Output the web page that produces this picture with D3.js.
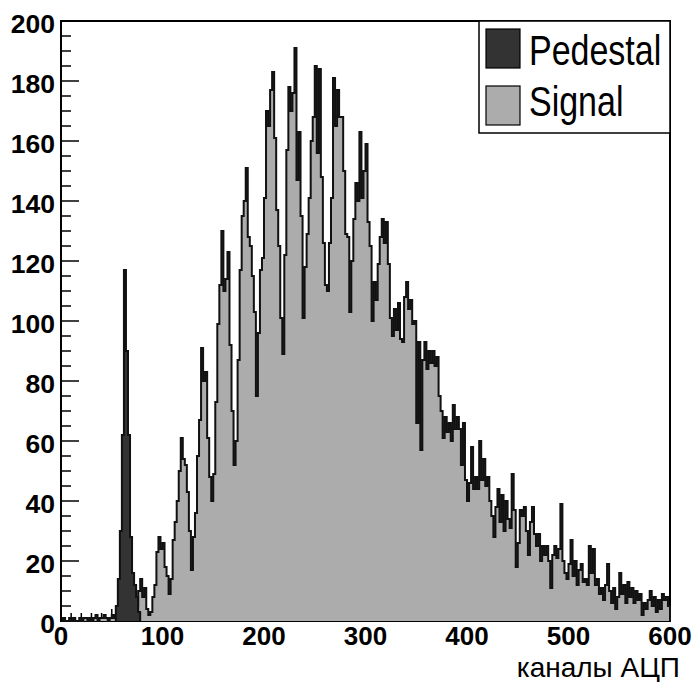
<!DOCTYPE html>
<html>
<head>
<meta charset="utf-8">
<script src="https://cdn.jsdelivr.net/npm/d3@7"></script>
<style>
  html, body { margin: 0; padding: 0; background: #fff; }
  svg { display: block; }
  text { font-family: "Liberation Sans", Arial, Helvetica, sans-serif; }
</style>
</head>
<body>
<svg id="chart" width="697" height="682"></svg>
<script>
// ---- data ----
const binWidth = 2;
const signalStart = 0;
const signalCounts = [
  0,1,0,0,1,0,1,0,0,1, 0,1,1,0,1,0,1,2,0,1, 1,2,1,0,1,2,1,2,3,5,
  6,4,7,5,6,8,6,5,10,14, 8,11,4,2,3,8,12,23,28,24,
  26,18,15,9,14,27,33,40,50,61, 54,52,43,30,17,28,36,55,67,91,
  80,83,61,48,40,49,73,99,112,130, 110,114,123,92,70,52,60,87,117,135,
  140,151,128,125,115,103,75,96,117,121, 141,170,165,177,183,161,137,125,101,89,
  122,157,178,170,176,191,147,163,135,101, 118,129,141,160,168,185,156,184,148,126,
  112,110,126,141,181,165,177,168,168,150, 129,128,103,120,134,146,140,163,141,150,
  159,133,125,100,113,107,119,128,134,126, 133,119,101,95,104,97,106,94,93,108,
  113,104,107,99,100,66,93,57,87,93, 84,90,86,90,85,88,75,70,61,68,
  63,66,60,72,64,68,64,52,66,47, 40,46,58,44,48,44,60,47,54,45,
  48,40,35,28,38,44,33,42,30,40, 34,31,49,37,18,26,37,35,38,30,
  22,33,38,29,25,29,20,25,22,25, 20,11,22,25,21,24,39,20,16,14,
  19,27,15,20,12,17,19,13,14,12, 25,16,24,12,14,9,11,7,12,19,
  10,6,11,4,8,16,9,12,6,13, 8,11,6,10,7,9,2,6,4,7,
  10,5,8,3,7,4,9,7,8,5
];
const pedestalStart = 54;
const pedestalCounts = [5, 14, 30, 62, 117, 90, 62, 28, 16, 12, 8, 3];

const xDomain = [0, 600];
const yDomain = [0, 200];
const xTickLabels = [0, 100, 200, 300, 400, 500, 600];
const yTickLabels = [0, 20, 40, 60, 80, 100, 120, 140, 160, 180, 200];
const legendNames = ["Pedestal", "Signal"];
const xTitle = "каналы АЦП";

// ---- layout ----
const pL = 61, pR = 670, pT = 21, pB = 621;
const svg = d3.select("#chart");
const x = d3.scaleLinear().domain(xDomain).range([pL, pR]);
const y = d3.scaleLinear().domain(yDomain).range([pB, pT]);

const colSignal = "#acacac";
const colPedestal = "#333333";

// frame
svg.append("rect").attr("x", pL).attr("y", pT)
  .attr("width", pR - pL).attr("height", pB - pT)
  .attr("fill", "none").attr("stroke", "#000").attr("stroke-width", 2);

// y ticks (inside, pointing right)
const yMinor = d3.range(0, 201, 5);
svg.append("g").selectAll("line").data(yMinor).join("line")
  .attr("x1", pL).attr("x2", d => pL + (d % 20 === 0 ? 18 : 10))
  .attr("y1", d => y(d)).attr("y2", d => y(d))
  .attr("stroke", "#000").attr("stroke-width", 1.5);

// x ticks (pointing up)
const xMinor = d3.range(0, 601, 10);
svg.append("g").selectAll("line").data(xMinor).join("line")
  .attr("x1", d => x(d)).attr("x2", d => x(d))
  .attr("y1", pB).attr("y2", d => pB - (d % 100 === 0 ? 18 : (d % 50 === 0 ? 12 : 8)))
  .attr("stroke", "#000").attr("stroke-width", 1.5);

// histogram helpers
function histPoints(start, counts) {
  const pts = [[start, 0]];
  counts.forEach((c, i) => pts.push([start + i * binWidth, c]));
  const end = start + counts.length * binWidth;
  pts.push([end, counts[counts.length - 1]]);
  pts.push([end, 0]);
  return pts;
}
const area = d3.area().curve(d3.curveStepAfter)
  .x(d => x(d[0])).y0(y(0)).y1(d => y(d[1]));
const line = d3.line().curve(d3.curveStepAfter)
  .x(d => x(d[0])).y(d => y(d[1]));

function drawHist(start, counts, fill) {
  const pts = histPoints(start, counts);
  svg.append("path").attr("d", area(pts)).attr("fill", fill).attr("stroke", "none");
  svg.append("path").attr("d", line(pts)).attr("fill", "none")
    .attr("stroke", "#111").attr("stroke-width", 2).attr("stroke-linejoin", "miter");
}
drawHist(signalStart, signalCounts, colSignal);
drawHist(pedestalStart, pedestalCounts, colPedestal);

// left axis line on top
svg.append("line").attr("x1", pL).attr("x2", pL).attr("y1", pT).attr("y2", pB)
  .attr("stroke", "#000").attr("stroke-width", 2);

// tick labels
svg.append("g").selectAll("text").data(yTickLabels).join("text")
  .attr("x", 55).attr("y", d => y(d) + 3).attr("dy", "0.35em")
  .attr("text-anchor", "end").attr("font-size", 26.5).attr("font-weight", "bold")
  .text(d => d);
svg.append("g").selectAll("text").data(xTickLabels).join("text")
  .attr("x", d => x(d)).attr("y", 645)
  .attr("text-anchor", "middle").attr("font-size", 26).attr("font-weight", "bold")
  .text(d => d);

// x title
svg.append("text").attr("x", 680).attr("y", 677).attr("text-anchor", "end")
  .attr("font-size", 28).text(xTitle);

// legend
const lg = svg.append("g");
lg.append("rect").attr("x", 479).attr("y", pT).attr("width", pR - 479).attr("height", 112)
  .attr("fill", "#fff").attr("stroke", "#000").attr("stroke-width", 1.5);
const legCols = [colPedestal, colSignal];
const legY = [29, 86];
const legBase = [65, 116];
legendNames.forEach((name, i) => {
  lg.append("rect").attr("x", 486).attr("y", legY[i]).attr("width", 34).attr("height", 39)
    .attr("fill", legCols[i]).attr("stroke", "#000").attr("stroke-width", 1.2);
  lg.append("text").attr("transform", `translate(529,${legBase[i]}) scale(1,1.25)`)
    .attr("font-size", 34).text(name);
});
</script>
</body>
</html>
